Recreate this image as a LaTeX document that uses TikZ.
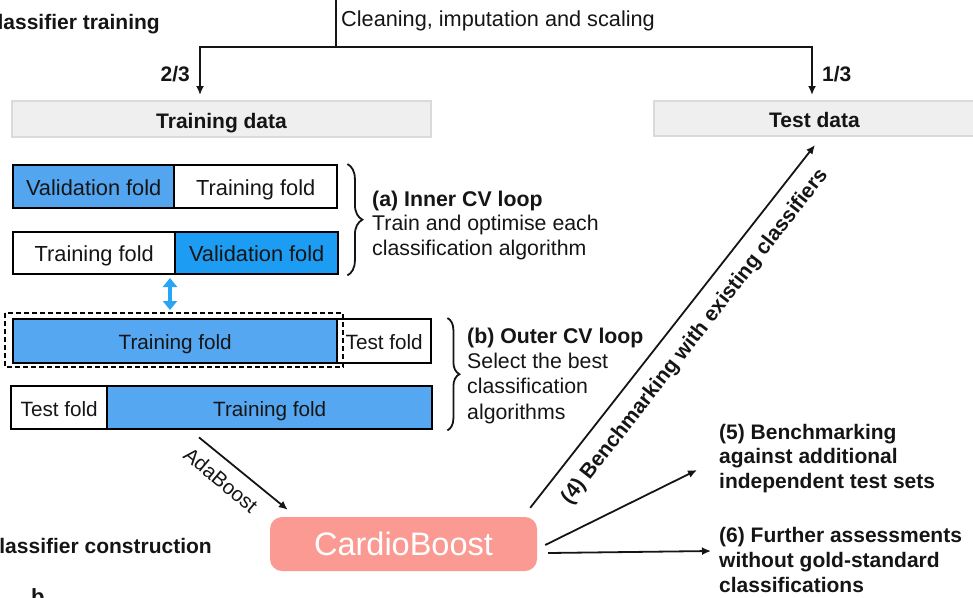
\documentclass[tikz,border=0pt]{standalone}
\usepackage{fontspec}
\setmainfont{Liberation Sans}
\usetikzlibrary{arrows.meta,decorations.pathreplacing,calc}
\definecolor{ink}{HTML}{151515}
\definecolor{blueA}{HTML}{52A5EE}
\definecolor{blueB}{HTML}{1C9DF3}
\definecolor{blueC}{HTML}{55A7F1}
\definecolor{arrowblue}{HTML}{2AA4F4}
\definecolor{greyfill}{HTML}{EFEFEF}
\definecolor{greyline}{HTML}{DADADA}
\definecolor{salmon}{HTML}{FA9A92}
\begin{document}
\begin{tikzpicture}[x=1pt,y=-1pt,
  lbl/.style={inner sep=0pt, text=ink, font=\fontsize{21.7}{24.5}\selectfont},
  blbl/.style={inner sep=0pt, text=ink, font=\bfseries\fontsize{21}{24.5}\selectfont},
  fold/.style={draw=black, line width=2.4pt, inner sep=0pt, anchor=north west, text=ink,
               text height=17pt, text depth=0pt, font=\fontsize{21.8}{24}\selectfont},
  ofold/.style={fold, font=\fontsize{20.7}{24}\selectfont},
  databox/.style={fill=greyfill, draw=greyline, line width=2pt, inner sep=0pt, text=ink,
                  text height=18pt, text depth=0pt, font=\bfseries\fontsize{21}{24}\selectfont},
  conn/.style={line width=1.8pt, draw=ink},
  arr/.style={conn, -{Latex[length=9pt,width=8pt]}},
  bracestyle/.style={draw=ink, line width=1.8pt, decorate},
  dashline/.style={draw=black, dash pattern=on 5pt off 3pt, line width=1.5pt},
]
\useasboundingbox (0,0) rectangle (973,597);

% titles
\node[blbl, anchor=base east] (ttrain) at (160,29) {Classifier training};
\node[blbl, anchor=base east] (tcons) at (212,553) {Classifier construction};
\node[inner sep=0pt, text=ink, font=\bfseries\fontsize{22}{24}\selectfont, anchor=base west] (blab) at (31,604) {b};

% top split
\coordinate (src) at (336,0);
\coordinate (fork) at (336,47);
\node[lbl, anchor=base west] (clean) at (341,26) {Cleaning, imputation and scaling};
\node[databox, minimum width=419pt, minimum height=36pt] (train) at (221.5,119) {Training data};
\node[databox, minimum width=321pt, minimum height=35pt] (test) at (814.5,118.5) {Test data};
\draw[conn] (src) -- (fork);
\draw[arr, shorten >=5pt] (fork) -| ([xshift=-21.5pt]train.north);
\draw[arr, shorten >=5pt] (fork) -| ([xshift=-2.5pt]test.north);
\node[blbl, anchor=base east] (f23) at (190,81) {2/3};
\node[blbl, anchor=base west] (f13) at (822,81) {1/3};

% inner CV loop
\node[fold, fill=blueA, minimum width=161pt, minimum height=43pt] (v1) at (12,164) {Validation fold};
\node[fold, fill=white, minimum width=163pt, minimum height=43pt] (t1) at (173,164) {Training fold};
\node[fold, fill=white, minimum width=162pt, minimum height=42pt] (t2) at (12,231) {Training fold};
\node[fold, fill=blueB, minimum width=163pt, minimum height=42pt] (v2) at (174,231) {Validation fold};
\draw[bracestyle, decoration={brace, amplitude=15pt}] ($(t1.north east)+(9,0)$) -- ($(v2.south east)+(8,0)$);
\node[lbl, anchor=north west, align=left, font=\fontsize{21.3}{24.5}\selectfont] (inner) at (372,190.5)
  {\textbf{(a) Inner CV loop}\\Train and optimise each\\classification algorithm};

% outer CV loop
\coordinate (dnw) at (5,313);
\coordinate (dse) at (343,367);
\node[ofold, fill=blueC, minimum width=324pt, minimum height=44pt] (tr3) at (12,318) {Training fold};
\node[ofold, fill=white, minimum width=94pt, minimum height=44pt] (te3) at (336,318) {Test fold};
\node[ofold, fill=white, minimum width=96pt, minimum height=43pt] (te4) at (10,385) {Test fold};
\node[ofold, fill=blueC, minimum width=325pt, minimum height=43pt] (tr4) at (106,385) {Training fold};
\draw[dashline] (dnw) rectangle (dse);
\draw[bracestyle, decoration={brace, amplitude=12pt}] ($(te3.north east)+(15,0)$) -- ($(tr4.south east)+(14,0)$);
\node[lbl, anchor=north west, align=left, font=\fontsize{21.3}{25.3}\selectfont] (outer) at (467,327.5)
  {\textbf{(b) Outer CV loop}\\Select the best\\classification\\algorithms};

% double arrow between loops
\coordinate (da1) at (170,278);
\coordinate (da2) at (170,310);
\draw[draw=arrowblue, line width=4pt, {Triangle[length=9pt,width=14pt]}-{Triangle[length=9pt,width=14pt]}] (da1) -- (da2);

% CardioBoost
\node[fill=salmon, rounded corners=12pt, minimum width=267pt, minimum height=54pt, inner sep=0pt,
      text=white, font=\fontsize{32.5}{34}\selectfont] (cb) at (403.5,544) {CardioBoost};

\draw[arr] ($(tr4.south west)+(93,7)$) -- ($(cb.north west)+(18,-7)$);
\node[inner sep=0pt, text=ink, font=\fontsize{20.5}{24}\selectfont, rotate=-40] (ada) at (221,480) {AdaBoost};

\draw[arr] ($(cb.north east)+(-7,-9)$) -- ($(test.south)+(0.5,8)$);
\node[blbl, rotate=52] (l4) at (695,337) {(4) Benchmarking with existing classifiers};

\node[blbl, anchor=north west, align=left, font=\bfseries\fontsize{21}{24.5}\selectfont] (t5) at (719,423.7)
  {(5) Benchmarking\\against additional\\independent test sets};
\node[blbl, anchor=north west, align=left, font=\bfseries\fontsize{21}{25}\selectfont] (t6) at (719,526.7)
  {(6) Further assessments\\without gold-standard\\classifications};
\coordinate (e5) at (697,470);
\coordinate (e6) at (711,551);
\draw[arr] ($(cb.east)+(8,1)$) -- (e5);
\draw[arr] ($(cb.east)+(11,9)$) -- (e6);
\end{tikzpicture}
\end{document}
